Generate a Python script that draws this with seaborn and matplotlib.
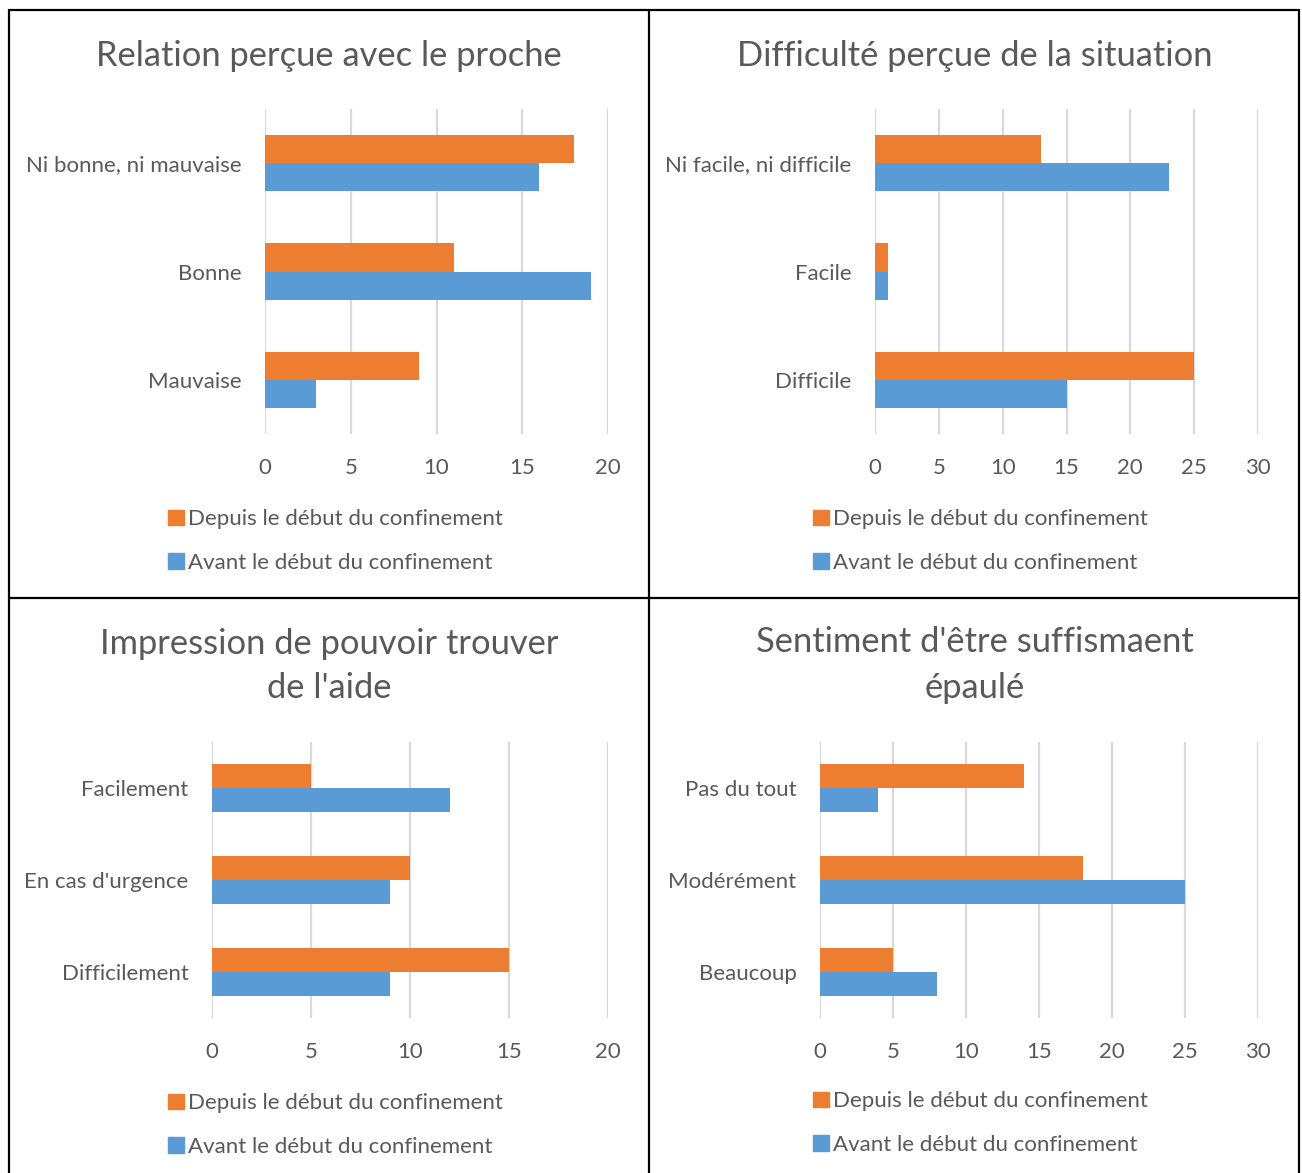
import pandas as pd
import seaborn as sns
import matplotlib.pyplot as plt
from matplotlib.lines import Line2D
from matplotlib.patches import Patch

W, H = 1302, 1173

SERIES = ["Depuis le début du confinement", "Avant le début du confinement"]
COLORS = ["#ED7D31", "#5B9BD5"]
TEXT = "#595959"
GRID = "#D9D9D9"

relation_cats = ["Ni bonne, ni mauvaise", "Bonne", "Mauvaise"]
relation_depuis = [18, 11, 9]
relation_avant = [16, 19, 3]

difficulte_cats = ["Ni facile, ni difficile", "Facile", "Difficile"]
difficulte_depuis = [13, 1, 25]
difficulte_avant = [23, 1, 15]

aide_cats = ["Facilement", "En cas d'urgence", "Difficilement"]
aide_depuis = [5, 10, 15]
aide_avant = [12, 9, 9]

epaule_cats = ["Pas du tout", "Modérément", "Beaucoup"]
epaule_depuis = [14, 18, 5]
epaule_avant = [4, 25, 8]

sns.set_style("white")
plt.rcParams["font.family"] = ["Lato", "DejaVu Sans"]


def px_box(left, top, right, bottom):
    return [left / W, 1 - bottom / H, (right - left) / W, (bottom - top) / H]


def make_panel(fig, box, title, title_x, title_y, cats, depuis, avant, xmax, leg_x, leg_y):
    df = pd.DataFrame({
        "cat": cats * 2,
        "serie": [SERIES[0]] * len(cats) + [SERIES[1]] * len(cats),
        "value": depuis + avant,
    })
    ax = fig.add_axes(px_box(*box))
    sns.barplot(data=df, y="cat", x="value", hue="serie", hue_order=SERIES,
                order=cats, palette=COLORS, saturation=1, width=0.52,
                orient="h", legend=False, linewidth=0, ax=ax)
    ax.set_xlim(0, xmax)
    ax.set_ylim(2.5, -0.5)
    ax.set_xticks(range(0, xmax + 1, 5))
    ax.xaxis.grid(True, color=GRID, lw=1.6)
    ax.set_axisbelow(True)
    for s in ax.spines.values():
        s.set_visible(False)
    ax.set_xlabel("")
    ax.set_ylabel("")
    ax.tick_params(axis="both", length=0, labelsize=16, labelcolor=TEXT)
    ax.tick_params(axis="y", pad=17)
    ax.tick_params(axis="x", pad=17.5)

    fig.text(title_x / W, 1 - title_y / H, title, ha="center",
             va="center", fontsize=24.8, color=TEXT, linespacing=1.5)

    handles = [Patch(color=c) for c in COLORS]
    fig.legend(handles, SERIES, loc="center left",
               bbox_to_anchor=(leg_x / W, 1 - leg_y / H), frameon=False,
               borderpad=0, borderaxespad=0, handlelength=0.7,
               handleheight=0.7, handletextpad=0.2, labelspacing=1.05,
               fontsize=16, labelcolor=TEXT)
    return ax


fig = plt.figure(figsize=(W / 100, H / 100), dpi=100)

make_panel(fig, (265, 109, 608, 434), "Relation perçue avec le proche", 329, 56,
           relation_cats, relation_depuis, relation_avant, 20, 168, 541)
make_panel(fig, (875, 109, 1258, 434), "Difficulté perçue de la situation", 974.5, 56,
           difficulte_cats, difficulte_depuis, difficulte_avant, 30, 813, 541)
make_panel(fig, (212, 742, 608, 1018), "Impression de pouvoir trouver\nde l'aide", 329, 666,
           aide_cats, aide_depuis, aide_avant, 20, 168, 1125)
make_panel(fig, (820, 742, 1258, 1018), "Sentiment d'être suffismaent\népaulé", 974.5, 665,
           epaule_cats, epaule_depuis, epaule_avant, 30, 813, 1123)

# bordures des panneaux
for x0, y0, x1, y1 in [(9, 10, 9, H), (649, 10, 649, H), (1299, 10, 1299, H),
                       (9, 10, 1299, 10), (9, 598, 1299, 598)]:
    fig.add_artist(Line2D([x0 / W, x1 / W], [1 - y0 / H, 1 - y1 / H],
                          color="black", lw=1.6))

fig.savefig("out.png", dpi=100)
